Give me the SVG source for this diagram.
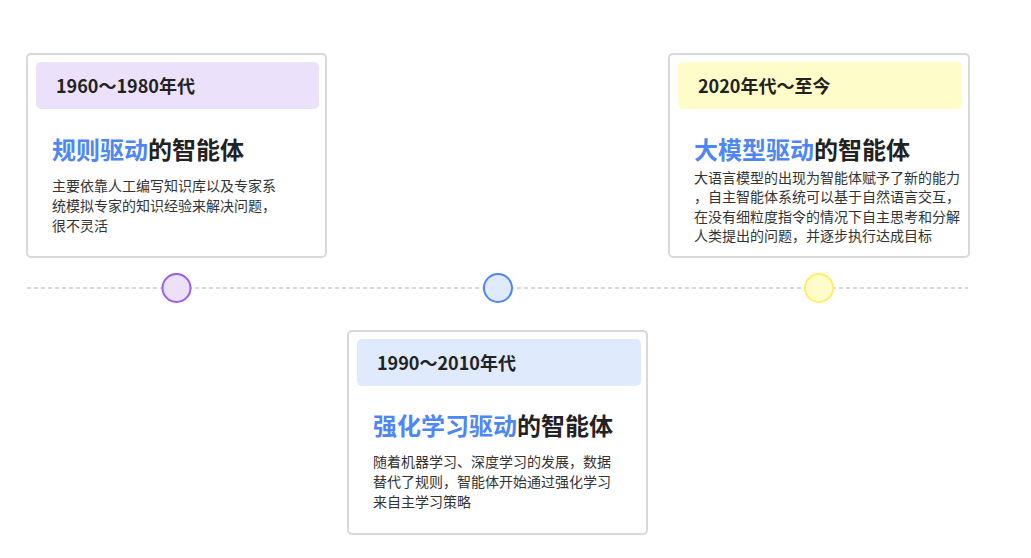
<svg xmlns="http://www.w3.org/2000/svg" width="1031" height="558" viewBox="0 0 1031 558">
<style>
.card{fill:#fff;stroke:#d9d9d9;stroke-width:2}
.hd{font-family:"Noto Sans CJK SC","Noto Sans",sans-serif;font-size:18px;font-weight:700;fill:#222}
.tt{font-family:"Noto Sans CJK SC","Noto Sans",sans-serif;font-size:24px;font-weight:700;fill:#222}
.bl{fill:#4e86f5}
.bd{font-family:"Noto Sans CJK SC","Noto Sans",sans-serif;font-size:14px;fill:#333}
</style>
<rect width="1031" height="558" fill="#fff"/>
<g id="connectors">
<line x1="27" y1="288" x2="968" y2="288" stroke="#cccccc" stroke-width="1.3" stroke-dasharray="4 3"/>
</g>
<g id="dot1"><circle cx="176.5" cy="288" r="14" fill="#ebe1fb" stroke="#9a5cf5" stroke-width="2"/></g>
<g id="dot2"><circle cx="498" cy="288" r="14" fill="#e0eafd" stroke="#4e86f5" stroke-width="2"/></g>
<g id="dot3"><circle cx="819" cy="288" r="14" fill="#fefcc8" stroke="#fdf066" stroke-width="2"/></g>
<g id="card1">
<rect class="card" x="27" y="54" width="299" height="203" rx="4"/>
<rect x="36" y="62" width="283" height="47" rx="5" fill="#ebe1fb"/>
<text class="hd" x="56" y="93">1960～1980年代</text>
<text class="tt" x="52" y="159"><tspan class="bl">规则驱动</tspan>的智能体</text>
<text class="bd" x="52" y="191">主要依靠人工编写知识库以及专家系</text>
<text class="bd" x="52" y="211">统模拟专家的知识经验来解决问题，</text>
<text class="bd" x="52" y="231">很不灵活</text>
</g>
<g id="card2">
<rect class="card" x="348" y="331" width="299" height="203" rx="4"/>
<rect x="357" y="339" width="284" height="47" rx="5" fill="#e0eafd"/>
<text class="hd" x="377" y="370">1990～2010年代</text>
<text class="tt" x="373" y="435"><tspan class="bl">强化学习驱动</tspan>的智能体</text>
<text class="bd" x="373" y="467">随着机器学习、深度学习的发展，数据</text>
<text class="bd" x="373" y="487">替代了规则，智能体开始通过强化学习</text>
<text class="bd" x="373" y="507">来自主学习策略</text>
</g>
<g id="card3">
<rect class="card" x="669" y="54" width="300" height="203" rx="4"/>
<rect x="678" y="62" width="284" height="47" rx="5" fill="#fefcc8"/>
<text class="hd" x="698" y="93">2020年代～至今</text>
<text class="tt" x="694" y="159"><tspan class="bl">大模型驱动</tspan>的智能体</text>
<text class="bd" x="694" y="183">大语言模型的出现为智能体赋予了新的能力</text>
<text class="bd" x="694" y="202">，自主智能体系统可以基于自然语言交互，</text>
<text class="bd" x="694" y="222">在没有细粒度指令的情况下自主思考和分解</text>
<text class="bd" x="694" y="241">人类提出的问题，并逐步执行达成目标</text>
</g>
</svg>
